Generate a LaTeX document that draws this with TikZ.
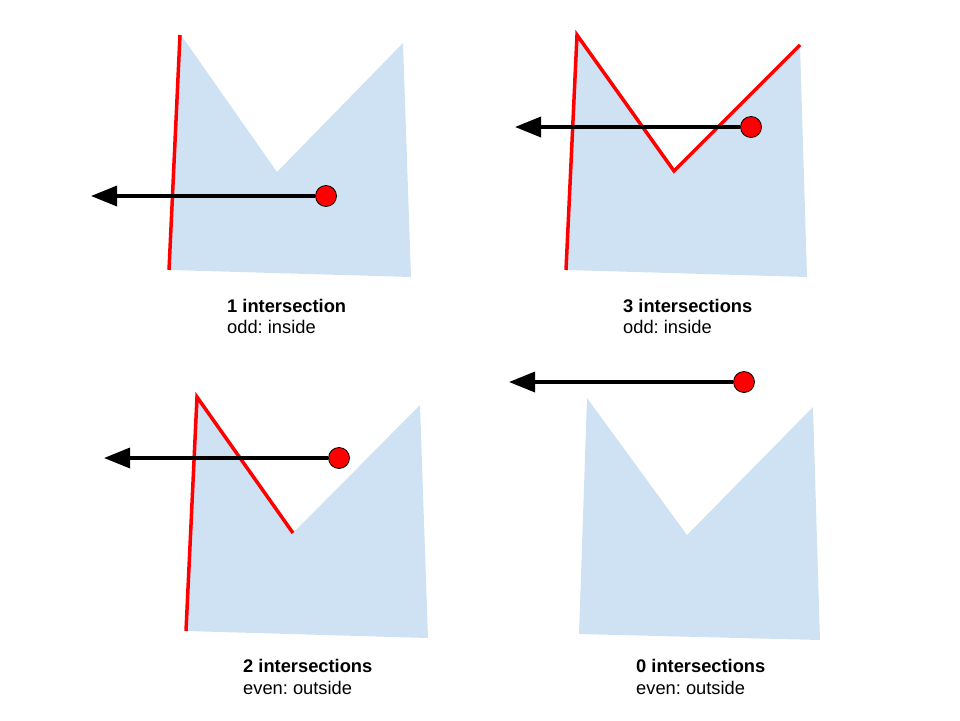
\documentclass[tikz,border=0pt]{standalone}
\usepackage{fontspec}
\setmainfont{Liberation Sans}
\usetikzlibrary{arrows.meta}
\definecolor{polyblue}{HTML}{CFE2F3}
\frenchspacing

\begin{document}
\begin{tikzpicture}[x=1pt,y=-1pt,
  poly/.style={fill=polyblue},
  edge/.style={red,line width=3.5pt,line join=miter},
  ray/.style={line width=3.5pt,-{Triangle[length=26pt,width=20pt]}},
  dot/.style={circle,draw=black,fill=red,inner sep=0pt,minimum size=21pt,line width=0.8pt},
  caption/.style={anchor=base west,inner sep=0pt,font=\fontsize{18.3}{22}\selectfont}]
\useasboundingbox (0,0) rectangle (960,720);

% top left: one crossing
\fill[poly] (181,35) -- (277,172) -- (403,43) -- (411,277) -- (170,270) -- cycle;
\draw[edge] (169,270) -- (180,35);
\node[dot] (p1) at (326,196) {};
\coordinate (e1) at (91,196);
\draw[ray] (p1) -- (e1);
\node[caption] (t1) at (227,312) {\textbf{1 intersection}};
\node[caption] (s1) at (227,333) {odd: inside};

% top right: three crossings
\fill[poly] (577,35) -- (674,171) -- (800,45) -- (807,277) -- (567,270) -- cycle;
\draw[edge] (566,270) -- (577,35) -- (674,171) -- (800,45);
\node[dot] (p2) at (751,127) {};
\coordinate (e2) at (515,127);
\draw[ray] (p2) -- (e2);
\node[caption] (t2) at (623,312) {\textbf{3 intersections}};
\node[caption] (s2) at (623,333) {odd: inside};

% bottom left: two crossings
\fill[poly] (197,397) -- (293,533) -- (420,405) -- (428,638) -- (186,631) -- cycle;
\draw[edge] (186,631) -- (197,397) -- (293,533);
\node[dot] (p3) at (339,458) {};
\coordinate (e3) at (104,458);
\draw[ray] (p3) -- (e3);
\node[caption] (t3) at (243,672) {\textbf{2 intersections}};
\node[caption] (s3) at (243,694) {even: outside};

% bottom right: no crossing
\fill[poly] (587,398) -- (687,535) -- (813,407) -- (820,640) -- (579,634) -- cycle;
\node[dot] (p4) at (744,382) {};
\coordinate (e4) at (509,382);
\draw[ray] (p4) -- (e4);
\node[caption] (t4) at (636,672) {\textbf{0 intersections}};
\node[caption] (s4) at (636,694) {even: outside};
\end{tikzpicture}
\end{document}
